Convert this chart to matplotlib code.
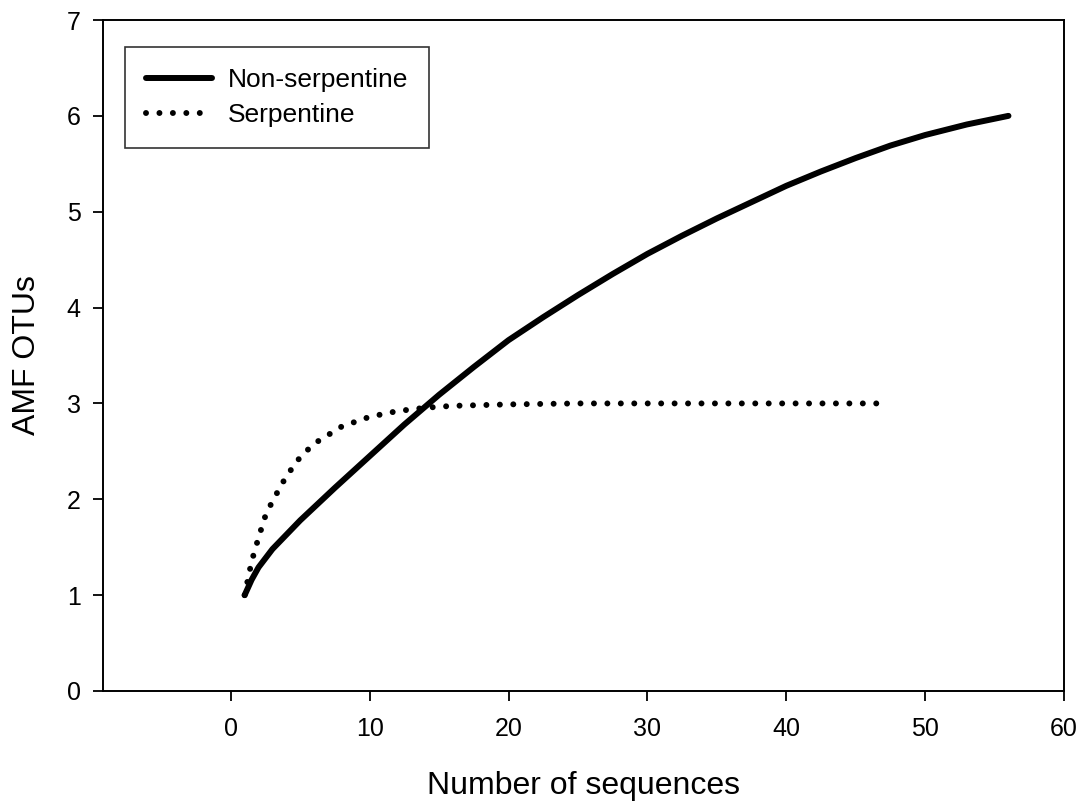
import matplotlib
matplotlib.use("Agg")
import matplotlib.pyplot as plt

plt.rcParams["font.family"] = ["Liberation Sans", "DejaVu Sans"]

# Rarefaction curves
nonserp_x = [1, 1.5, 2, 3, 4, 5, 7.5, 10, 12.5, 15, 17.5, 20, 22.5, 25, 27.5, 30, 32.5, 35,
             37.5, 40, 42.5, 45, 47.5, 50, 53, 56]
nonserp_y = [1, 1.16, 1.29, 1.48, 1.63, 1.78, 2.12, 2.45, 2.78, 3.09, 3.38, 3.66, 3.9, 4.13,
             4.35, 4.56, 4.75, 4.93, 5.1, 5.27, 5.42, 5.56, 5.69, 5.8, 5.91, 6.0]

serp_x = [1, 1.5, 2, 2.5, 3, 4, 5, 6, 7, 8, 9, 10, 12, 14, 16, 20, 25, 30, 35, 40, 46.5]
serp_y = [1, 1.35, 1.6, 1.83, 1.98, 2.24, 2.44, 2.58, 2.67, 2.76, 2.81, 2.86, 2.92, 2.955,
          2.975, 2.99, 3, 3, 3, 3, 3]

xticks = [0, 10, 20, 30, 40, 50, 60]
yticks = [0, 1, 2, 3, 4, 5, 6, 7]

fig = plt.figure(figsize=(10.83, 8.06), dpi=100)
ax = fig.add_axes([103 / 1083, 1 - 691 / 806, (1064 - 103) / 1083, (691 - 20) / 806])

ax.plot(nonserp_x, nonserp_y, color="black", lw=4.3, solid_capstyle="round",
        solid_joinstyle="round", label="Non-serpentine")
ax.plot(serp_x, serp_y, color="black", lw=4.3, linestyle=(0, (0.001, 2.25)),
        dash_capstyle="round", label="Serpentine")

ax.set_xlim(-9.2, 60)
ax.set_ylim(0, 7)
ax.set_xticks(xticks)
ax.set_yticks(yticks)
ax.tick_params(direction="out", length=7, width=1.3, labelsize=18, pad=9)
ax.tick_params(axis="x", pad=12)
for s in ax.spines.values():
    s.set_linewidth(1.4)

ax.set_xlabel("Number of sequences", fontsize=23, labelpad=21)
ax.set_ylabel("AMF OTUs", fontsize=23, labelpad=18)

leg = ax.legend(loc="upper left", bbox_to_anchor=(22 / 961, 1 - 27 / 671),
                fontsize=19, frameon=True, fancybox=False, edgecolor="black",
                handlelength=2.5, borderpad=0.8, labelspacing=0.42, handletextpad=0.6,
                borderaxespad=0)
leg.get_frame().set_linewidth(1.2)

fig.savefig("out.png", dpi=100)
